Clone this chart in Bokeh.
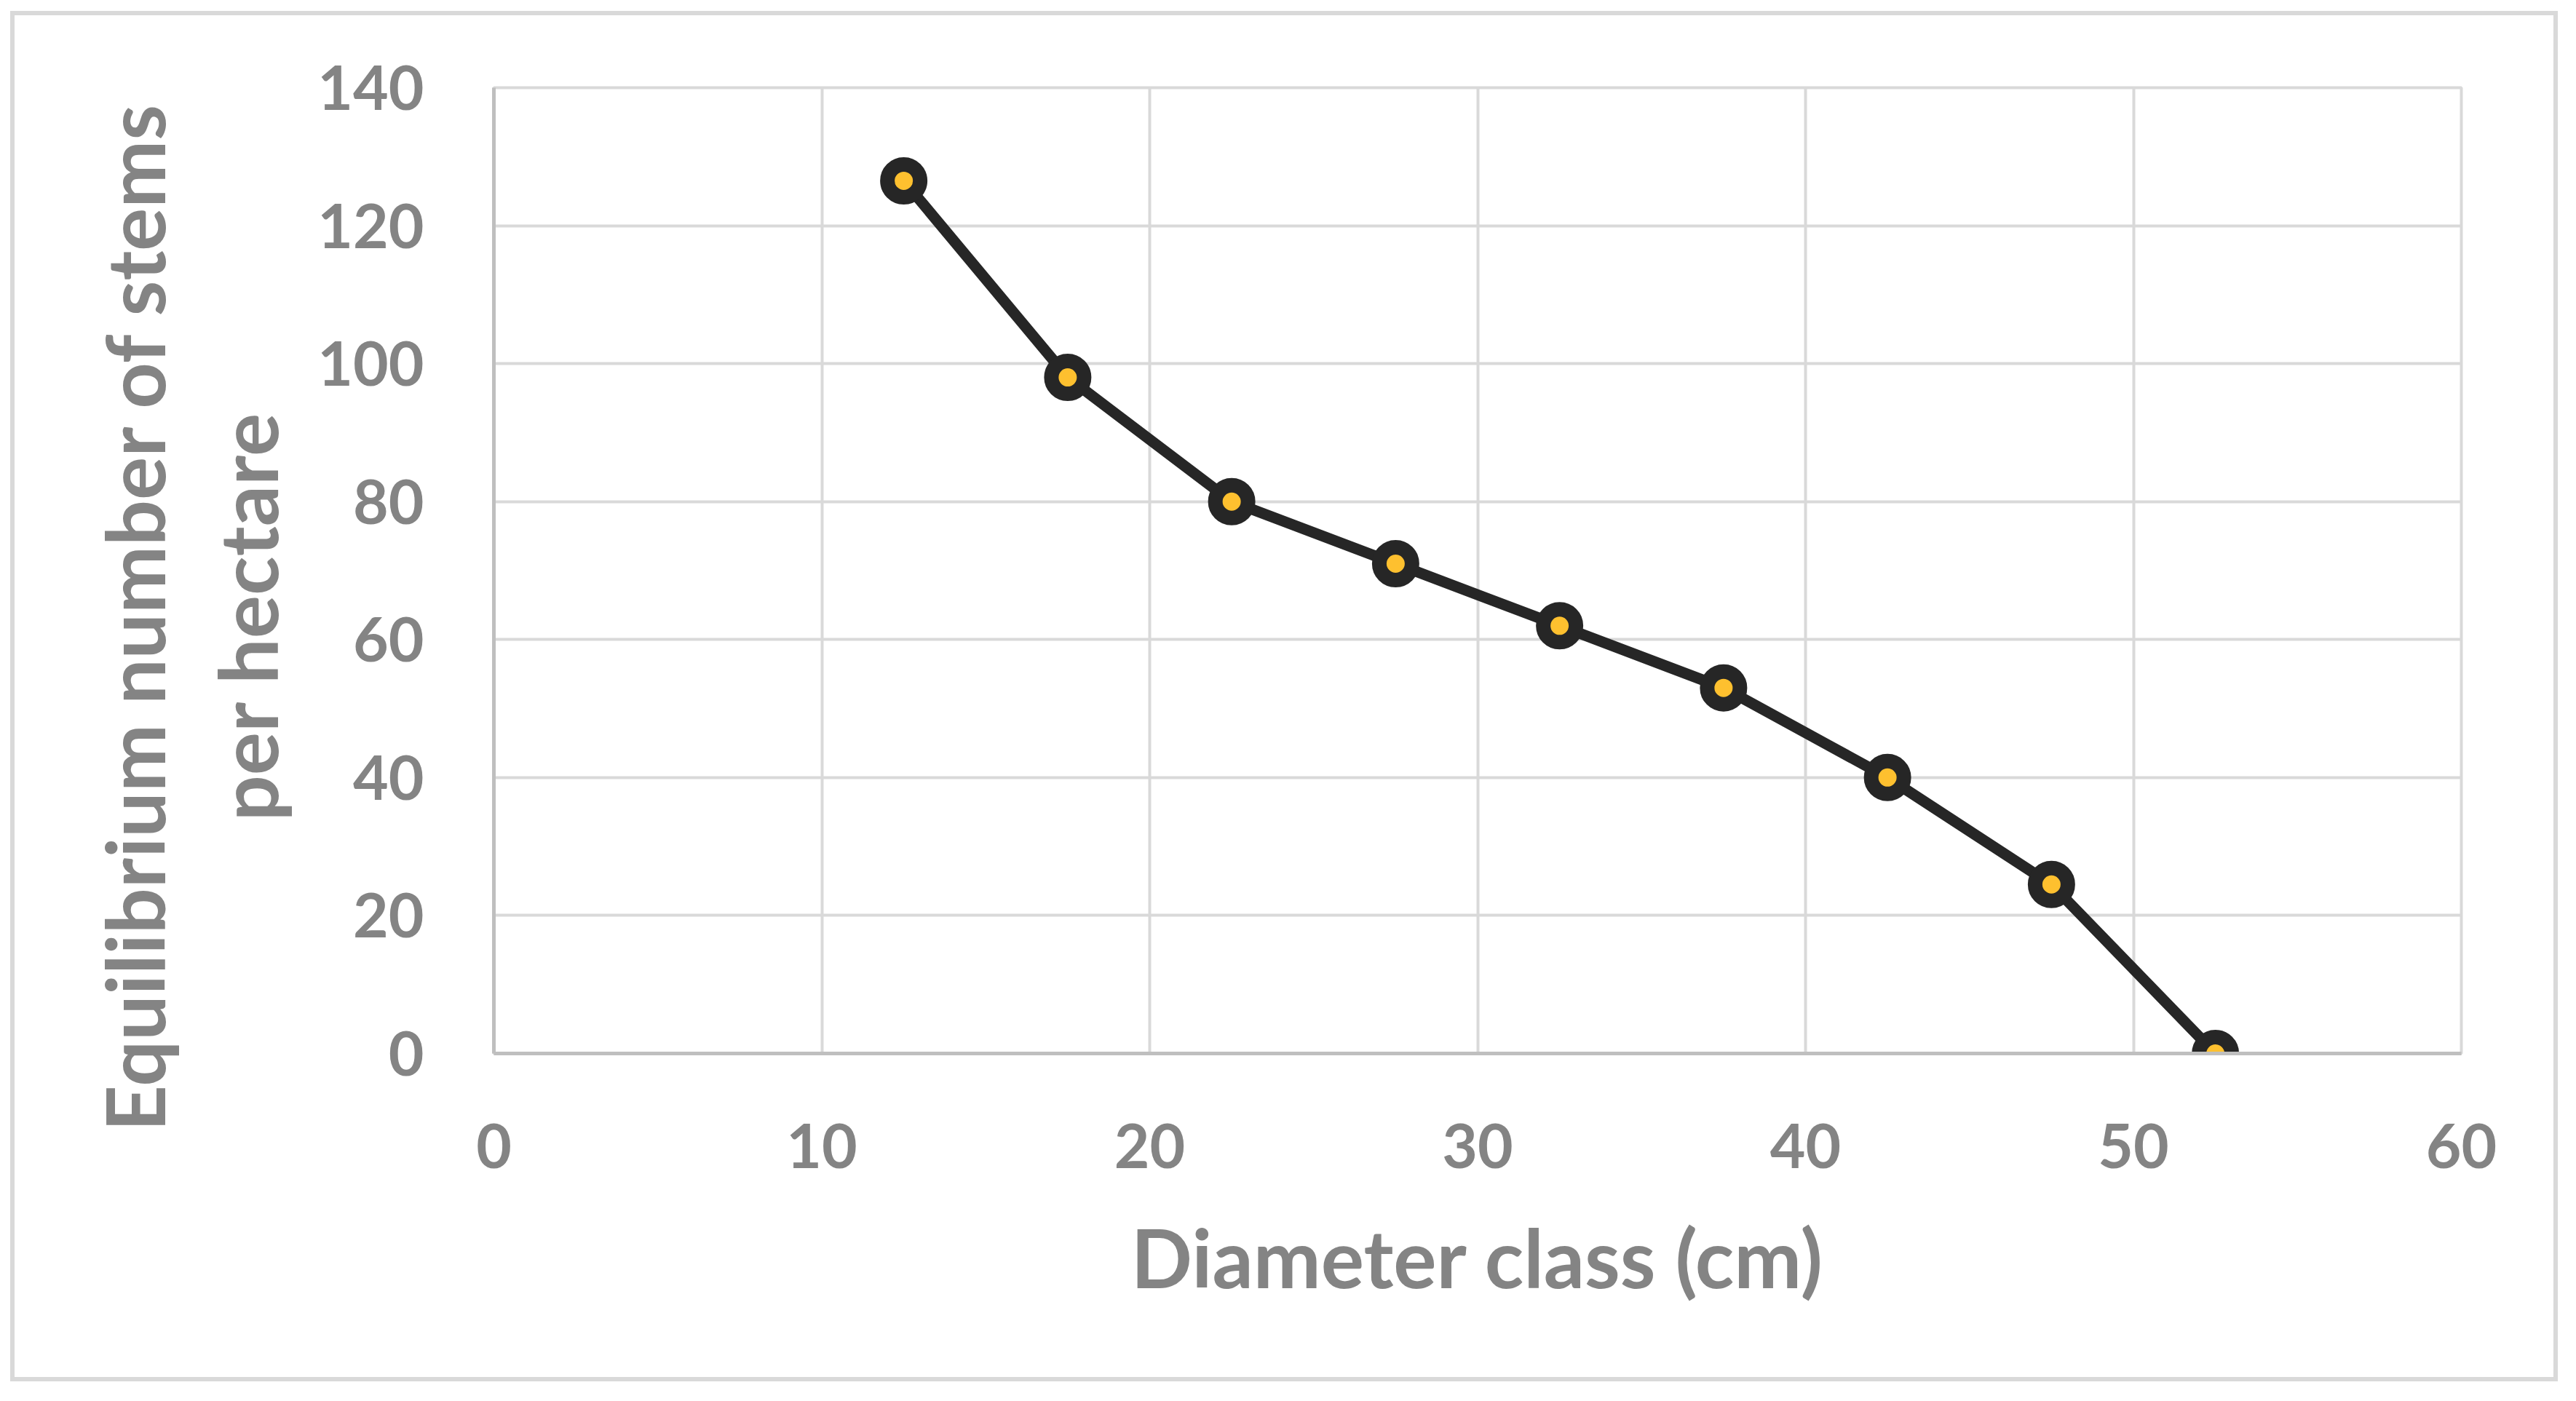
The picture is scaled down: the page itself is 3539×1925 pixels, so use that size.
from bokeh.plotting import figure
from bokeh.models import Range1d, FixedTicker, ColumnDataSource, Title
from bokeh.embed import file_html
from bokeh.resources import INLINE

# Data
diameter_class = [12.5, 17.5, 22.5, 27.5, 32.5, 37.5, 42.5, 47.5, 52.5]
stems_per_ha = [126.5, 98, 80, 71, 62, 53, 40, 24.5, 0]
x_ticks = [0, 10, 20, 30, 40, 50, 60]
y_ticks = [0, 20, 40, 60, 80, 100, 120, 140]
x_label = "Diameter class (cm)"
y_label_line1 = "Equilibrium number of stems"
y_label_line2 = "per hectare"

FONT = "Lato"
TXT = "#848484"
TITLE_SIZE = "111px"

p = figure(width=3500, height=1883, output_backend="svg", toolbar_location=None,
           x_range=Range1d(0, 60), y_range=Range1d(0, 140),
           min_border_left=658, min_border_right=139,
           min_border_top=99, min_border_bottom=457)
p.styles = {"border": "6px solid #d9d9d9", "margin-left": "14px", "margin-top": "15px"}
p.outline_line_color = "#d9d9d9"
p.outline_line_width = 4
p.background_fill_color = "white"
p.border_fill_color = "white"

for ax, ticks in ((p.xaxis, x_ticks), (p.yaxis, y_ticks)):
    ax.ticker = FixedTicker(ticks=ticks)
    ax.major_tick_line_color = None
    ax.major_tick_out = 0
    ax.major_tick_in = 0
    ax.minor_tick_line_color = None
    ax.axis_line_color = "#bfbfbf"
    ax.axis_line_width = 5
    ax.major_label_text_color = TXT
    ax.major_label_text_font = FONT
    ax.major_label_text_font_size = "84px"
    ax.major_label_text_font_style = "bold"
    ax.axis_label_text_color = TXT
    ax.axis_label_text_font = FONT
    ax.axis_label_text_font_size = TITLE_SIZE
    ax.axis_label_text_font_style = "bold"

p.xaxis.major_label_standoff = 96
p.yaxis.major_label_standoff = 96
p.xaxis.axis_label = x_label
p.xaxis.axis_label_standoff = 52

# two-line y title as side titles (inner line first, outer line second)
for txt, off, so in ((y_label_line2, 445, 56), (y_label_line1, 19, -19)):
    t = Title(text=txt, align="right", offset=off, standoff=so,
              text_color=TXT, text_font=FONT, text_font_size=TITLE_SIZE,
              text_font_style="bold")
    p.add_layout(t, "left")

for g, ticks in ((p.xgrid, x_ticks), (p.ygrid, y_ticks)):
    g.ticker = FixedTicker(ticks=ticks)
    g.grid_line_color = "#d9d9d9"
    g.grid_line_width = 4

src = ColumnDataSource(dict(x=diameter_class, y=stems_per_ha))
p.line("x", "y", source=src, line_color="#262626", line_width=15)
p.scatter("x", "y", source=src, marker="circle", size=45,
          fill_color="#fec02f", line_color="#262626", line_width=20)

open("out.html", "w").write(file_html(p, INLINE))
